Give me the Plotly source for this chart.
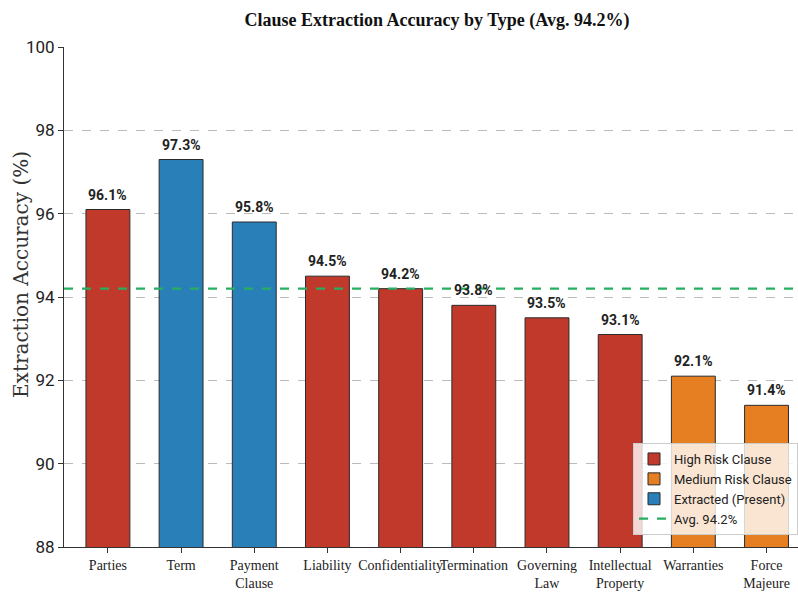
import plotly.graph_objects as go

clauses = ["Parties", "Term", "Payment<br>Clause", "Liability", "Confidentiality",
           "Termination", "Governing<br>Law", "Intellectual<br>Property", "Warranties",
           "Force<br>Majeure"]
accuracy = [96.1, 97.3, 95.8, 94.5, 94.2, 93.8, 93.5, 93.1, 92.1, 91.4]
category = ["high", "present", "present", "high", "high", "high", "high", "high",
            "medium", "medium"]
average = 94.2

colors = {"high": "#c0392b", "medium": "#e67e22", "present": "#2980b9"}
names = {"high": "High Risk Clause", "medium": "Medium Risk Clause",
         "present": "Extracted (Present)"}

serif = "Liberation Serif, DejaVu Serif, serif"
narrow = "Liberation Sans Narrow, Roboto, DejaVu Sans, sans-serif"

# plot area in pixels
L, R, T, B = 64, 798, 47, 547
W, H = R - L, B - T

xs = list(range(len(clauses)))
fig = go.Figure()

for key in ["high", "medium", "present"]:
    idx = [i for i, c in enumerate(category) if c == key]
    fig.add_trace(go.Bar(
        x=[xs[i] for i in idx], y=[accuracy[i] for i in idx],
        width=0.6, name=names[key],
        marker=dict(color=colors[key], line=dict(color="#2b2b2b", width=1)),
    ))

fig.add_trace(go.Scatter(
    x=[-0.6, 9.6], y=[average, average], mode="lines",
    name=f"Avg. {average}%",
    line=dict(color="#27ae60", width=2.2, dash="dash"),
))

for x, v in zip(xs, accuracy):
    fig.add_annotation(x=x, y=v, text=f"<b>{v}%</b>", showarrow=False,
                       yanchor="bottom", yshift=5,
                       font=dict(family=narrow, size=14, color="#222222"))

# y-axis title
fig.add_annotation(xref="paper", yref="paper", x=(21 - L) / W, y=(B - 275) / H,
                   text="Extraction Accuracy (%)", textangle=-90, showarrow=False,
                   xanchor="center", yanchor="middle",
                   font=dict(family="DejaVu Serif, serif", size=20, color="#333333"))

fig.update_layout(
    width=798, height=592,
    margin=dict(l=L, r=798 - R, t=T, b=592 - B, autoexpand=False),
    paper_bgcolor="white", plot_bgcolor="white",
    barmode="overlay",
    title=dict(text="<b>Clause Extraction Accuracy by Type (Avg. 94.2%)</b>",
               x=437 / 798, xanchor="center", xref="container",
               y=1 - 20 / 592, yanchor="middle",
               font=dict(family=serif, size=18, color="#111111")),
    showlegend=True,
    legend=dict(x=1, y=(B - 443) / H, xanchor="right", yanchor="top",
                bgcolor="rgba(255,255,255,0.8)", bordercolor="#cccccc",
                borderwidth=1, font=dict(family=narrow, size=13, color="#222222"),
                tracegroupgap=0, traceorder="normal"),
    xaxis=dict(
        range=[-0.6, 9.43], tickmode="array", tickvals=xs, ticktext=clauses,
        tickangle=0, automargin=False,
        showgrid=False, zeroline=False,
        showline=True, linecolor="#333333", linewidth=1,
        ticks="outside", ticklen=5, tickcolor="#333333",
        tickfont=dict(family=serif, size=14, color="#222222"),
    ),
    yaxis=dict(
        range=[88, 100], dtick=2, zeroline=False, automargin=False,
        showgrid=True, gridcolor="#bbbbbb", griddash="dash", gridwidth=1,
        showline=True, linecolor="#333333", linewidth=1,
        ticks="outside", ticklen=5, tickcolor="#333333",
        tickfont=dict(family=narrow, size=17, color="#222222"),
    ),
)

fig.write_html("out.html")
